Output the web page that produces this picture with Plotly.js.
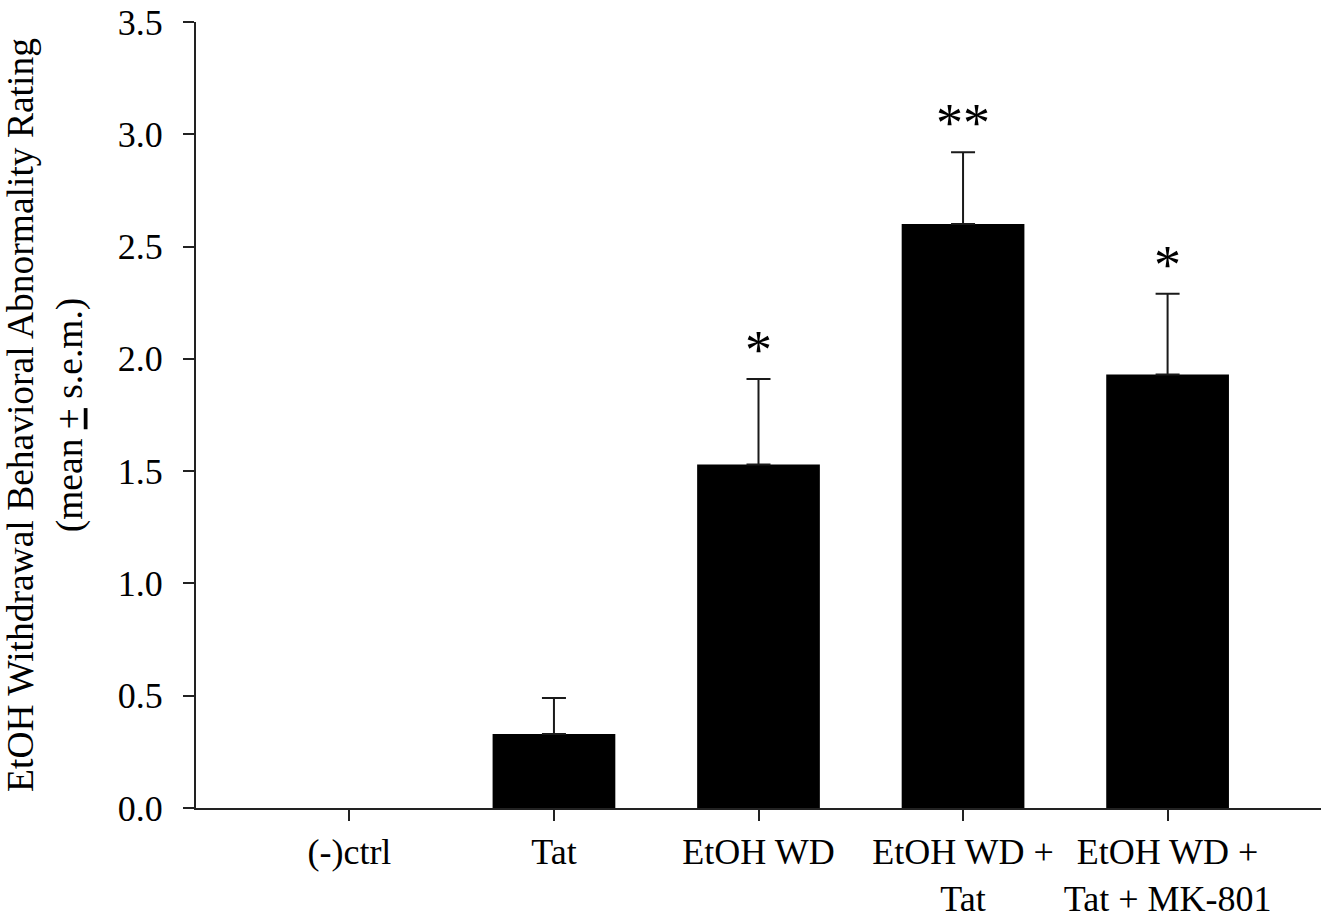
<!DOCTYPE html>
<html>
<head>
<meta charset="utf-8">
<script src="https://cdn.plot.ly/plotly-3.0.1.min.js"></script>
<style>html,body{margin:0;padding:0;background:#fff;}#chart{width:1329px;height:919px;}</style>
</head>
<body>
<div id="chart"></div>
<script>
var categories = ["(-)ctrl", "Tat", "EtOH WD", "EtOH WD +<br>Tat", "EtOH WD +<br>Tat + MK-801"];
var means = [0, 0.33, 1.53, 2.60, 1.93];
var sems = [null, 0.16, 0.38, 0.32, 0.36];
var significance = ["", "", "*", "**", "*"];
var yTickVals = [0, 0.5, 1, 1.5, 2, 2.5, 3, 3.5];
var yTickText = ["0.0", "0.5", "1.0", "1.5", "2.0", "2.5", "3.0", "3.5"];

var FONT = "'Liberation Serif', 'Times New Roman', Times, serif";

var xIdx = categories.map(function(_, i){ return i; });

var trace = {
  type: "bar",
  x: xIdx,
  y: means,
  marker: {color: "#000000", line: {width: 0}},
  error_y: {
    type: "data",
    symmetric: false,
    array: sems.map(function(v){ return v === null ? NaN : v; }),
    arrayminus: sems.map(function(v){ return v === null ? NaN : 0; }),
    color: "#1a1a1a",
    thickness: 2,
    width: 12
  },
  hoverinfo: "none"
};

var annotations = [];
significance.forEach(function(s, i){
  if (!s) return;
  annotations.push({
    x: i, y: means[i] + sems[i], xref: "x", yref: "y",
    text: s, showarrow: false,
    yanchor: "bottom", yshift: -3,
    font: {family: FONT, size: 54, color: "#000"}
  });
});

var layout = {
  width: 1329, height: 919,
  margin: {l: 196, r: 8, t: 22, b: 111},
  paper_bgcolor: "#fff", plot_bgcolor: "#fff",
  showlegend: false,
  bargap: 0.4,
  font: {family: FONT, size: 36, color: "#000"},
  xaxis: {
    range: [-0.75, 4.75],
    tickmode: "array", tickvals: xIdx, ticktext: categories,
    showline: true, linecolor: "#222", linewidth: 2,
    ticks: "outside", ticklen: 11, tickwidth: 2, tickcolor: "#222",
    showgrid: false, zeroline: false,
    ticklabelstandoff: 0,
    tickfont: {family: FONT, size: 36, color: "#000"}
  },
  yaxis: {
    range: [0, 3.5],
    tickmode: "array",
    tickvals: yTickVals,
    ticktext: yTickText,
    showline: true, linecolor: "#222", linewidth: 2,
    ticks: "outside", ticklen: 11, tickwidth: 2, tickcolor: "#222",
    showgrid: false, zeroline: false,
    ticklabelstandoff: 13,
    tickfont: {family: FONT, size: 36, color: "#000"},
    title: {
      text: "EtOH Withdrawal Behavioral Abnormality Rating<br>(mean <span style=\"text-decoration:underline\">+</span> s.e.m.)",
      font: {family: FONT, size: 37.5, color: "#000"},
      standoff: 27
    }
  },
  annotations: annotations
};

Plotly.newPlot("chart", [trace], layout, {displayModeBar: false, staticPlot: true});
</script>
</body>
</html>
